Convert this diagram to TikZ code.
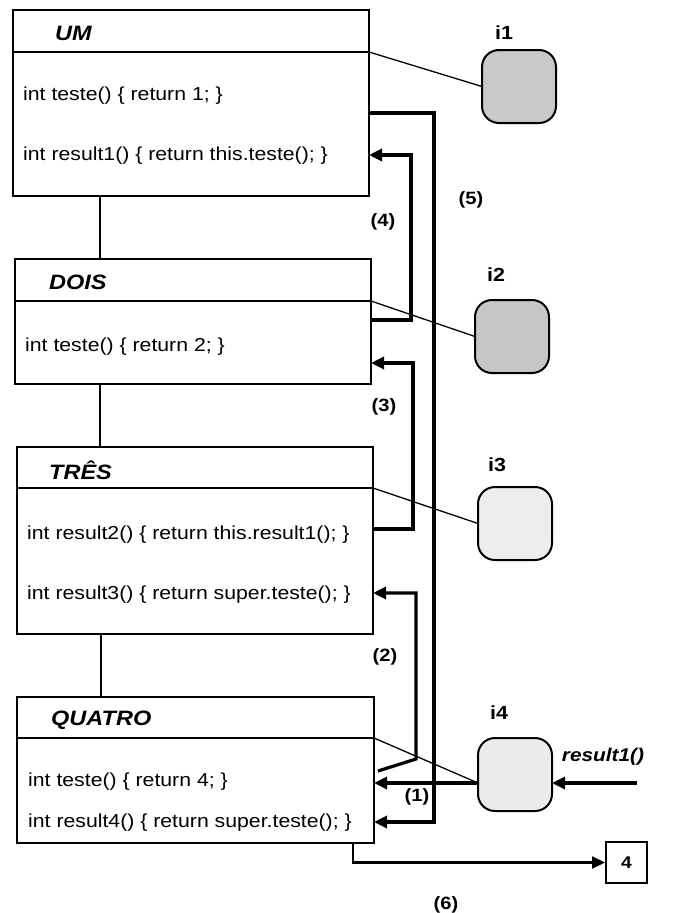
\documentclass[tikz,border=0pt]{standalone}
\usepackage{fontspec}
\setmainfont{Liberation Sans}[FakeStretch=1.13]
\usetikzlibrary{arrows.meta}
\begin{document}
\begin{tikzpicture}[x=1pt,y=-1pt,
  classbox/.style={draw, line width=1.5pt, inner sep=0pt, outer sep=0pt, anchor=north west},
  thin/.style={line width=1.3pt},
  inst/.style={draw, line width=2pt, rounded corners=17pt, minimum width=74pt, minimum height=73pt, inner sep=0pt, outer sep=0pt, anchor=north west},
  title/.style={font=\fontsize{20.8}{23}\selectfont\bfseries\itshape, anchor=west, inner sep=0pt},
  meth/.style={font=\fontsize{18.8}{21}\selectfont, anchor=west, inner sep=0pt},
  lbl/.style={font=\fontsize{17.8}{20}\selectfont\bfseries, inner sep=0pt},
  ilbl/.style={font=\fontsize{19}{21}\selectfont\bfseries, inner sep=0pt},
  call/.style={line width=3.2pt, -{Triangle[length=13pt,width=12pt]}},
]
\useasboundingbox (0,0) rectangle (675,913);

% class boxes
\node[classbox, minimum width=356pt, minimum height=186pt] (um) at (13,10) {};
\node[classbox, minimum width=356pt, minimum height=125pt] (dois) at (15,259) {};
\node[classbox, minimum width=356pt, minimum height=187pt] (tres) at (17,447) {};
\node[classbox, minimum width=357pt, minimum height=146pt] (quatro) at (17,697) {};

% header separators
\draw[thin] (um.west |- 0,52) -- (um.east |- 0,52);
\draw[thin] (dois.west |- 0,301) -- (dois.east |- 0,301);
\draw[thin] (tres.west |- 0,488) -- (tres.east |- 0,488);
\draw[thin] (quatro.west |- 0,738) -- (quatro.east |- 0,738);

% titles
\node[title] (tum) at (55,33) {UM};
\node[title] (tdois) at (49,282) {DOIS};
\node[title] (ttres) at (49,470) {TRÊS};
\node[title] (tquatro) at (51,720) {QUATRO};

% methods
\node[meth] (m1) at (23,96) {int teste() \{ return 1; \}};
\node[meth] (m2) at (23,156) {int result1() \{ return this.teste(); \}};
\node[meth] (m3) at (25,347) {int teste() \{ return 2; \}};
\node[meth] (m4) at (27,535) {int result2() \{ return this.result1(); \}};
\node[meth] (m5) at (27,595) {int result3() \{ return super.teste(); \}};
\node[meth] (m6) at (28,782) {int teste() \{ return 4; \}};
\node[meth] (m7) at (28,823) {int result4() \{ return super.teste(); \}};

% hierarchy lines
\draw[thin] (um.south -| 100,0) -- (dois.north -| 100,0);
\draw[thin] (dois.south -| 100,0) -- (tres.north -| 100,0);
\draw[thin] (tres.south -| 101,0) -- (quatro.north -| 101,0);

% instances
\node[inst, fill=gray!42] (i1) at (482,50) {};
\node[inst, fill=gray!45] (i2) at (475,300) {};
\node[inst, fill=gray!14] (i3) at (478,487) {};
\node[inst, fill=gray!16] (i4) at (478,738) {};
\node[ilbl] (li1) at (504,33) {i1};
\node[ilbl] (li2) at (496,275) {i2};
\node[ilbl] (li3) at (497,465) {i3};
\node[ilbl] (li4) at (499,713) {i4};

% instance links
\draw[thin] (um.east |- 0,52) -- (i1.west);
\draw[thin] (dois.east |- 0,301) -- (i2.west);
\draw[thin] (tres.east |- 0,488) -- (i3.west);
\coordinate (i4in) at (i4.west |- 0,783);
\draw[thin] (quatro.east |- 0,738) -- (i4in);

% calls
\draw[call] (um.east |- 0,113) -| (434,822) -- (quatro.east |- 0,822);
\draw[call] (dois.east |- 0,320) -| (411,155) -- (um.east |- 0,155);
\draw[call] (tres.east |- 0,529) -| (413,363) -- (dois.east |- 0,363);
\coordinate (q2) at (378,771);
\draw[call] (q2) -- (416,759) -- (416,593) -- (tres.east |- 0,593);
\draw[call] (i4in) -- (quatro.east |- i4in);
\coordinate (ext) at (637,783);
\draw[call] (ext) -- (i4.east |- ext);
\node[draw, line width=2pt, minimum size=41pt, inner sep=0pt, font=\fontsize{17}{19}\selectfont\bfseries] (box4) at (626.5,862.5) {4};
\draw[line width=2.2pt, -{Triangle[length=13pt,width=12pt]}] (quatro.south -| 353,0) |- (box4.west);

% labels
\node[lbl] (l5) at (471,200) {(5)};
\node[lbl] (l4) at (383,222) {(4)};
\node[lbl] (l3) at (384,407) {(3)};
\node[lbl] (l2) at (385,657) {(2)};
\node[lbl] (l1) at (417,797) {(1)};
\node[lbl] (l6) at (446,905) {(6)};
\node[font=\fontsize{18.4}{20}\selectfont\bfseries\itshape, inner sep=0pt] (lr) at (603,757) {result1()};
\end{tikzpicture}
\end{document}
